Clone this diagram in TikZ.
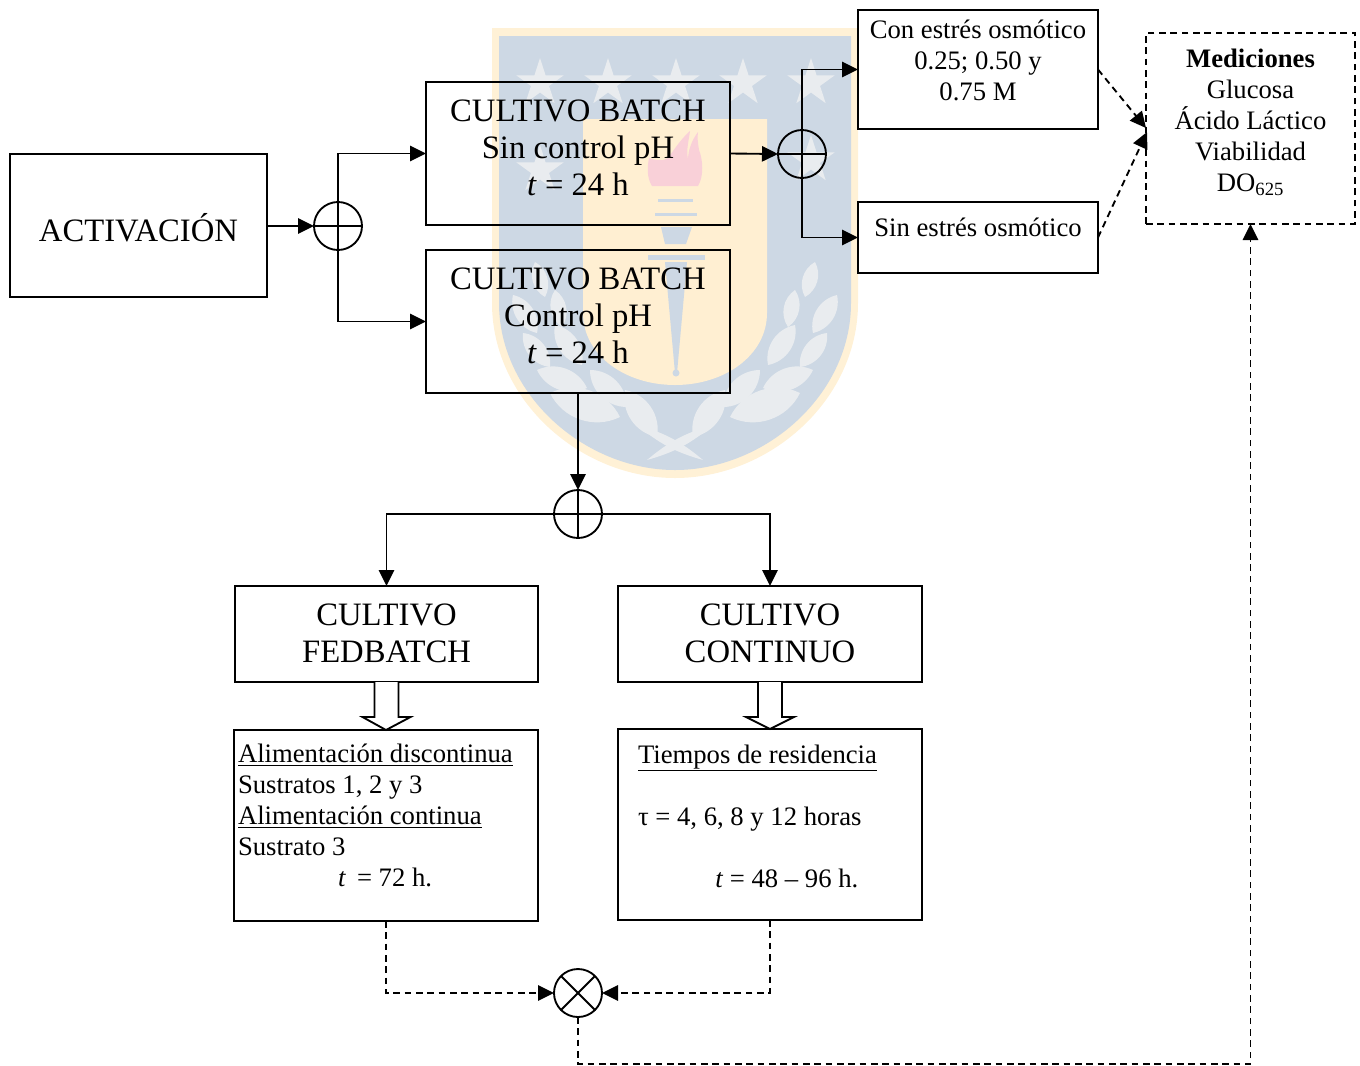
\documentclass[tikz,border=0pt]{standalone}
\usepackage{fontspec}
\setmainfont{Liberation Serif}
\usetikzlibrary{arrows.meta,calc}
\definecolor{shieldRim}{HTML}{FFF1D6}
\definecolor{shieldBlue}{HTML}{CDD8E4}
\definecolor{shieldU}{HTML}{FFEFD2}
\definecolor{shieldPale}{HTML}{E9ECEF}
\definecolor{shieldFlame}{HTML}{F9D0D8}
\newcommand\DropBy[1]{\rule[-#1pt]{0pt}{0pt}}
\newcommand\HollowArrow[2]{
    \draw[hollow] (#1.south) ++(-12,0) --++ (0,35) --++ (-12,0) -- (#2.north) -- ($(#1.south)+(24,35)$) --++ (-12,0) --++ (0,-35);
}
\tikzset{
  box/.style={
    draw,
    shape = rectangle,
    line width = 1.4pt,
    inner sep = 0pt,
    outer sep = 0pt,
    align = center
  },
  bigTxt/.style={
    font = \fontsize{24.5}{27.75}\selectfont
  },
  smallTxt/.style={
    font = \fontsize{20}{23.25}\selectfont
  },
  sumPlus/.style={
    draw,
    shape = circle,
    line width = 1.4pt,
    minimum size = 36pt,
    inner sep = 0pt,
    outer sep = 0pt,
    path picture={
      \draw[line width=1.4pt] (path picture bounding box.north) -- (path picture bounding box.south);
      \draw[line width=1.4pt] (path picture bounding box.west) -- (path picture bounding box.east);
    }
  },
  sumCross/.style={
    draw,
    shape = circle,
    line width = 1.4pt,
    minimum size = 36pt,
    inner sep = 0pt,
    outer sep = 0pt,
    path picture={
      \draw[line width=1.4pt] (path picture bounding box.north west) -- (path picture bounding box.south east);
      \draw[line width=1.4pt] (path picture bounding box.north east) -- (path picture bounding box.south west);
    }
  },
  flow/.style={
    line width = 1.4pt,
    -{Triangle[length=12pt,width=11.5pt]}
  },
  flowDash/.style={
    flow,
    dash pattern = on 5pt off 3.5pt
  },
  hollow/.style={
    line width = 1.4pt,
    fill = white
  },
  starPic/.pic={
    \fill[shieldPale] (-90:25) -- (-54:9.5) -- (-18:25) -- (18:9.5) -- (54:25) -- (90:9.5) -- (126:25) -- (162:9.5) -- (198:25) -- (234:9.5) -- cycle;
  }
}
\begin{document}
\begin{tikzpicture}[x=0.75pt,y=-0.75pt]
    \useasboundingbox (0,0) rectangle (1360,1065);

    % shield behind the diagram
    \fill[shieldRim] (492,28) -- (858,28) -- (858,303) .. controls (858,400) and (770,478) .. (675,478) .. controls (580,478) and (492,400) .. (492,303) -- cycle;
    \fill[shieldBlue] (499,36) -- (851,36) -- (851,303) .. controls (851,395) and (765,470) .. (675,470) .. controls (585,470) and (499,395) .. (499,303) -- cycle;
    \fill[shieldU] (583,119) -- (767,119) -- (767,313) .. controls (767,355) and (725,385) .. (675,385) .. controls (625,385) and (583,355) .. (583,313) -- cycle;
    \foreach \sx/\sy in {540/83,608/83,676/83,743/83,811/83,540/170,811/160}{
        \pic at (\sx,\sy) {starPic};
    }
    \foreach \side in {1,-1}{
      \begin{scope}[shift={(675,0)},xscale=\side]
        \foreach \bx/\by/\tx/\ty in {130/297/140/262,113/327/120/290,138/333/162/295,93/365/120/325,125/367/152/333,48/407/85/370,88/388/138/370,55/417/125/393,18/437/50/390}{
            \fill[shieldPale] (\bx,\by) to[bend left=45] (\tx,\ty) to[bend left=45] (\bx,\by);
        }
        \fill[shieldPale] (-28,460) to[bend left=12] (38,425) to[bend left=12] (-28,460);
      \end{scope}
    }
    % torch
    \fill[shieldFlame] (652,186) -- (698,186) .. controls (704,176) and (703,160) .. (699,150) .. controls (698,143) and (697,138) .. (698,132) .. controls (692,140) and (688,150) .. (688,160) .. controls (686,148) and (689,140) .. (690,131) .. controls (680,140) and (674,150) .. (668,158) .. controls (662,162) and (655,160) .. (649,158) .. controls (647,168) and (647,178) .. (652,186) -- cycle;
    \fill[shieldBlue] (658,198.5) rectangle (693,202);
    \fill[shieldBlue] (655,212.5) rectangle (697,216);
    \fill[shieldBlue] (661,227) -- (692,227) -- (686,244) -- (665,244) -- cycle;
    \fill[shieldBlue] (648,255) rectangle (705,260);
    \fill[shieldBlue] (665,262) -- (687,262) -- (677,373) -- (675,373) -- cycle;
    \fill[shieldBlue] (676,373) circle (3.5);

    \node[box, bigTxt, minimum width=192.75pt, minimum height=107.25pt] (act) at (138.5,225.5) {\rule{0pt}{24pt}ACTIVACIÓN};
    \node[sumPlus] (sumA) at (338,226) {};

    \node[box, bigTxt, minimum width=228pt, minimum height=107.25pt] (batchA) at (578,153.5) {CULTIVO BATCH\\Sin control pH\\\textit{t} = 24 h\DropBy{9}};
    \node[box, bigTxt, minimum width=228pt, minimum height=107.25pt] (batchB) at (578,321.5) {CULTIVO BATCH\\Control pH\\\textit{t} = 24 h\DropBy{9}};
    \node[sumPlus] (sumB) at (802,154) {};

    \node[box, smallTxt, minimum width=180pt, minimum height=89.25pt] (con) at (978,69.5) {Con estrés osmótico\\0.25; 0.50 y\\0.75 M\DropBy{14}};
    \node[box, smallTxt, minimum width=180pt, minimum height=53.25pt] (sin) at (978,237.5) {Sin estrés osmótico\DropBy{15}};
    \node[box, smallTxt, dash pattern=on 5pt off 3.5pt, minimum width=156.75pt, minimum height=143.25pt] (med) at (1250.5,128.5) {\textbf{Mediciones}\\Glucosa\\Ácido Láctico\\Viabilidad\\DO\textsubscript{625}\DropBy{12.5}};

    \node[sumPlus] (sumC) at (578,514) {};
    \node[box, bigTxt, minimum width=227.25pt, minimum height=72pt] (fed) at (386.5,634) {CULTIVO\\FEDBATCH\DropBy{1.5}};
    \node[box, bigTxt, minimum width=228pt, minimum height=72pt] (cont) at (770,634) {CULTIVO\\CONTINUO\DropBy{1.5}};

    \node[box, smallTxt, align=flush left, inner xsep=3pt, text width=222pt, minimum height=143.25pt] (fedTxt) at (386,825.5) {\underline{Alimentación discontinua}\\Sustratos 1, 2 y 3\\\underline{Alimentación continua}\\Sustrato 3\\\hspace*{75pt}\textit{t}\, = 72 h.\DropBy{15}};
    \node[box, smallTxt, align=flush left, inner xsep=15pt, text width=198pt, minimum height=143.25pt] (contTxt) at (770,824.5) {\underline{Tiempos de residencia}\\[23.25pt]τ = 4, 6, 8 y 12 horas\\[23.25pt]\hspace*{58pt}\textit{t} = 48 – 96 h.\DropBy{13}};
    \node[sumCross] (mult) at (578,993) {};

    \coordinate (medInA) at (1146,128);
    \coordinate (medInB) at (1147,132);
    \coordinate (back) at (1250.5,1064);

    \draw[flow] (act.east |- sumA.west) -- (sumA.west);
    \draw[flow] (sumA.north) |- (batchA.west);
    \draw[flow] (sumA.south) |- (batchB.west);
    \draw[flow] (batchA.east) -- (sumB.west);
    \draw[flow] (sumB.north) |- (con.west);
    \draw[flow] (sumB.south) |- (sin.west);
    \draw[flow] (batchB.south) -- (sumC.north);
    \draw[flow] (sumC.west) -| (fed.north);
    \draw[flow] (sumC.east) -| (cont.north);

    \HollowArrow{fed}{fedTxt}
    \HollowArrow{cont}{contTxt}

    \draw[flowDash] (con.east) -- (medInA);
    \draw[flowDash] (sin.east) -- (medInB);
    \draw[flowDash] (fedTxt.south) |- (mult.west);
    \draw[flowDash] (contTxt.south) |- (mult.east);
    \draw[flowDash] (mult.south) |- (back) -- (med.south);
\end{tikzpicture}
\end{document}
